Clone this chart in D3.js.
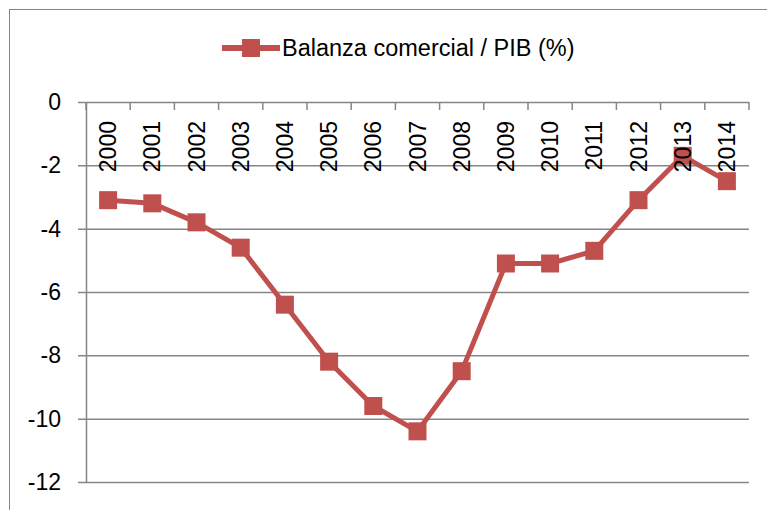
<!DOCTYPE html>
<head>
  <meta charset="utf-8">
  <script src="https://d3js.org/d3.v7.min.js"></script>
  <style>
    body { margin: 0; background: #fff; }
    text { font-family: "Liberation Sans", Arial, sans-serif; fill: #000; }
  </style>
</head>
<body>
  <div id="graph"></div>
  <script>
    // data
    var years = ["2000", "2001", "2002", "2003", "2004", "2005", "2006", "2007",
                 "2008", "2009", "2010", "2011", "2012", "2013", "2014"];
    var balanza = [-3.1, -3.2, -3.8, -4.6, -6.4, -8.2, -9.6, -10.4,
                   -8.5, -5.1, -5.1, -4.7, -3.1, -1.7, -2.5];
    var yTicks = [0, -2, -4, -6, -8, -10, -12];
    var serieName = "Balanza comercial / PIB (%)";

    var width = 767, height = 510;
    var red = "#C0504D", grid = "#868686";
    var svg = d3.select("#graph").append("svg")
      .attr("width", width)
      .attr("height", height);

    // chart border
    svg.append("rect")
      .attr("x", 9.5).attr("y", 9.5)
      .attr("width", 800).attr("height", 600)
      .attr("fill", "none").attr("stroke", grid).attr("stroke-width", 1);

    var xmin = 86, xmax = 749, ytop = 102, ybot = 482;

    var x = d3.scaleBand().domain(years).range([xmin, xmax]);
    var y = d3.scaleLinear().domain([0, -12]).range([ytop, ybot]);

    // gridlines + left ticks (plain hyphen like Excel)
    var yAxis = d3.axisLeft(y).tickValues(yTicks)
      .tickFormat(d => String(d))
      .tickSize(-(xmax - xmin)).tickSizeOuter(0);
    var gy = svg.append("g")
      .attr("transform", "translate(" + xmin + ",0)")
      .call(yAxis);
    gy.select(".domain").attr("stroke", grid).attr("stroke-width", 1.5);
    gy.selectAll(".tick line")
      .attr("x1", -8)
      .attr("stroke", grid).attr("stroke-width", 1.5);
    gy.selectAll(".tick text")
      .attr("x", -25)
      .style("font-size", "23px");

    // category axis on the zero line, ticks pointing down
    var bounds = years.map(d => x(d)).concat([xmax]);
    var gx = svg.append("g");
    gx.selectAll("line.cat").data(bounds).enter()
      .append("line")
      .attr("class", "cat")
      .attr("x1", d => d).attr("x2", d => d)
      .attr("y1", y(0)).attr("y2", y(0) + 8)
      .attr("stroke", grid).attr("stroke-width", 1.5);

    // series
    var line = d3.line()
      .x((d, i) => x(years[i]) + x.bandwidth() / 2)
      .y(d => y(d));

    svg.append("path")
      .datum(balanza)
      .attr("d", line)
      .attr("fill", "none")
      .attr("stroke", red)
      .attr("stroke-width", 5)
      .attr("stroke-linejoin", "round");

    var ms = 18;
    svg.selectAll("rect.mark").data(balanza).enter()
      .append("rect")
      .attr("class", "mark")
      .attr("x", (d, i) => x(years[i]) + x.bandwidth() / 2 - ms / 2)
      .attr("y", d => y(d) - ms / 2)
      .attr("width", ms).attr("height", ms)
      .attr("fill", red);

    // year labels, rotated, drawn over the series
    gx.raise();
    gx.selectAll("text").data(years).enter()
      .append("text")
      .attr("transform", d => "translate(" + (x(d) + x.bandwidth() / 2 + 8) + "," + (y(0) + 19) + ") rotate(-90)")
      .attr("text-anchor", "end")
      .style("font-size", "23px")
      .text(d => d);

    // legend
    var lg = svg.append("g").attr("transform", "translate(222,48)");
    lg.append("line")
      .attr("x1", 0).attr("x2", 58)
      .attr("stroke", red).attr("stroke-width", 6);
    lg.append("rect")
      .attr("x", 29 - ms / 2).attr("y", -ms / 2)
      .attr("width", ms).attr("height", ms)
      .attr("fill", red);
    lg.append("text")
      .attr("x", 60).attr("y", 8)
      .style("font-size", "23.5px")
      .text(serieName);
  </script>
</body>
